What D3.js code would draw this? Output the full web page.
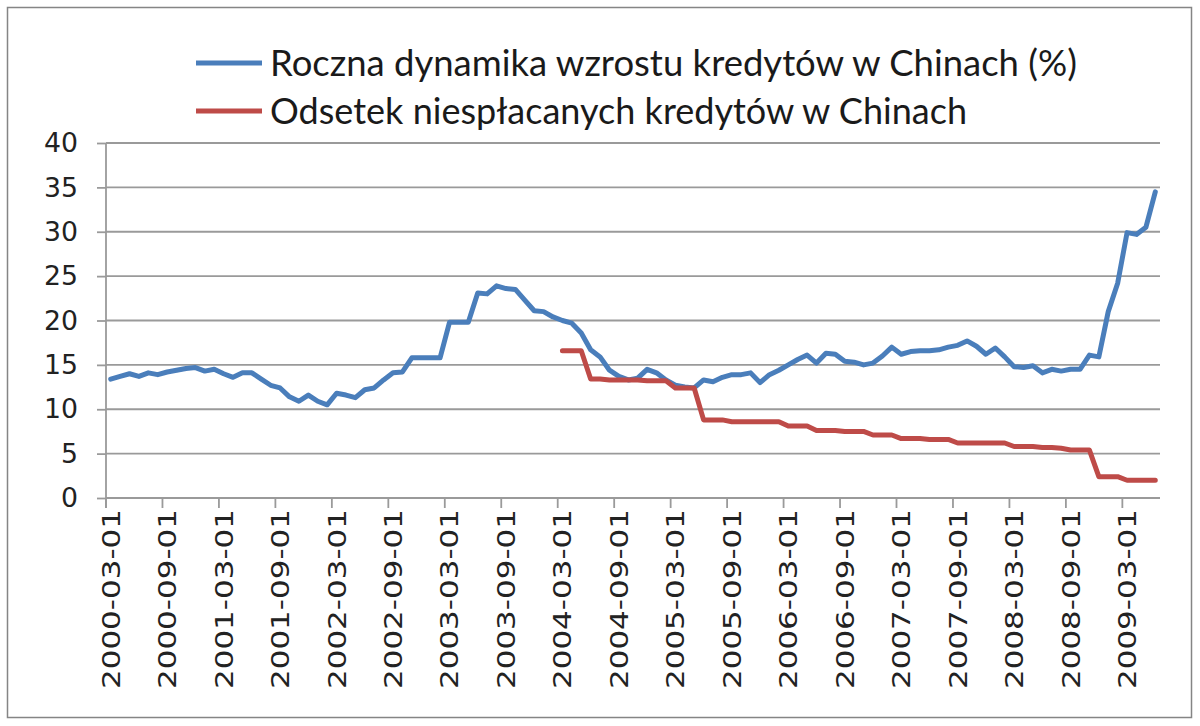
<!DOCTYPE html>
<html><head><meta charset="utf-8">
<script src="https://cdn.jsdelivr.net/npm/d3@7"></script>
<style>
html,body{margin:0;padding:0;background:#fff;}
svg{display:block;}
</style></head>
<body>
<svg id="chart" width="1200" height="726"></svg>
<script>
// ---- DATA ----
const startMonth = "2000-03-01";
const endMonth = "2009-06-01";
const seriesNames = ["Roczna dynamika wzrostu kredytów w Chinach (%)", "Odsetek niespłacanych kredytów w Chinach"];
const yTicks = [0, 5, 10, 15, 20, 25, 30, 35, 40];
const xTickLabels = ["2000-03-01","2000-09-01","2001-03-01","2001-09-01","2002-03-01","2002-09-01","2003-03-01","2003-09-01","2004-03-01","2004-09-01","2005-03-01","2005-09-01","2006-03-01","2006-09-01","2007-03-01","2007-09-01","2008-03-01","2008-09-01","2009-03-01"];
// monthly credit growth, 2000-03 .. 2009-06
const creditGrowth = [
  13.4, 13.7, 14.0, 13.7, 14.1, 13.9, 14.2, 14.4, 14.6, 14.7, 14.3, 14.5,
  14.0, 13.6, 14.1, 14.1, 13.4, 12.7, 12.4, 11.4, 10.9, 11.6, 10.9, 10.5,
  11.8, 11.6, 11.3, 12.2, 12.4, 13.3, 14.1, 14.2, 15.8, 15.8, 15.8, 15.8,
  19.8, 19.8, 19.8, 23.1, 23.0, 23.9, 23.6, 23.5, 22.3, 21.1, 21.0, 20.4,
  20.0, 19.7, 18.6, 16.7, 15.9, 14.4, 13.7, 13.3, 13.5, 14.5, 14.1, 13.3,
  12.7, 12.5, 12.4, 13.3, 13.1, 13.6, 13.9, 13.9, 14.1, 13.0, 13.9, 14.4,
  15.0, 15.6, 16.1, 15.2, 16.3, 16.2, 15.4, 15.3, 15.0, 15.2, 16.0, 17.0,
  16.2, 16.5, 16.6, 16.6, 16.7, 17.0, 17.2, 17.7, 17.1, 16.2, 16.9, 15.9,
  14.8, 14.7, 14.9, 14.1, 14.5, 14.3, 14.5, 14.5, 16.1, 15.9, 21.0, 24.2,
  29.9, 29.7, 30.5, 34.5
];
// monthly non-performing loan ratio, starts 2004-03
const nplStart = "2004-03-01";
const nplRatio = [
  16.6, 16.6, 16.6, 13.4, 13.4, 13.3, 13.3, 13.3, 13.3, 13.2, 13.2, 13.2,
  12.4, 12.4, 12.4, 8.8, 8.8, 8.8, 8.6, 8.6, 8.6, 8.6, 8.6, 8.6,
  8.1, 8.1, 8.1, 7.6, 7.6, 7.6, 7.5, 7.5, 7.5, 7.1, 7.1, 7.1,
  6.7, 6.7, 6.7, 6.6, 6.6, 6.6, 6.2, 6.2, 6.2, 6.2, 6.2, 6.2,
  5.8, 5.8, 5.8, 5.7, 5.7, 5.6, 5.4, 5.4, 5.4, 2.4, 2.4, 2.4,
  2.0, 2.0, 2.0, 2.0
];
const colors = ["#4a7ebb", "#be4b48"];

// ---- CHART ----
const parse = d3.timeParse("%Y-%m-%d");
const fmt = d3.timeFormat("%Y-%m-%d");
const months = d3.timeMonth.range(parse(startMonth), d3.timeMonth.offset(parse(endMonth), 1)).map(fmt);
const nplOffset = months.indexOf(nplStart);

const svg = d3.select("#chart");
const L = 106, R = 1160, T = 143, B = 498;

svg.append("rect").attr("x", 7.5).attr("y", 7.5).attr("width", 1184).attr("height", 710)
  .attr("fill", "#fff").attr("stroke", "#858585").attr("stroke-width", 1.5);

const x = d3.scaleBand().domain(months).range([L, R]).paddingInner(0).paddingOuter(0);
const y = d3.scaleLinear().domain([0, 40]).range([B, T]);

// gridlines
svg.append("g").selectAll("line").data(yTicks).join("line")
  .attr("x1", L).attr("x2", R).attr("y1", d => y(d)).attr("y2", d => y(d))
  .attr("stroke", "#9a9a9a").attr("stroke-width", 1.8);

// y axis
const yAxis = svg.append("g").attr("transform", `translate(${L},0)`)
  .call(d3.axisLeft(y).tickValues(yTicks).tickSize(9).tickPadding(19).tickFormat(d3.format("d")));
yAxis.select(".domain").attr("stroke", "#9a9a9a").attr("stroke-width", 1.8).attr("d", `M0,${T}V${B + 10}`);
yAxis.selectAll(".tick line").attr("stroke", "#9a9a9a").attr("stroke-width", 1.8);
yAxis.selectAll("text").attr("font-family", "DejaVu Sans, sans-serif").attr("font-size", 27)
  .attr("fill", "#222").attr("textLength", 34).attr("lengthAdjust", "spacingAndGlyphs");
yAxis.selectAll("text").filter(d => d < 10).attr("textLength", 17);

// x axis
const tickMonths = months.filter(m => xTickLabels.includes(m));
const xAxis = svg.append("g").attr("transform", `translate(0,${B})`)
  .call(d3.axisBottom(x).tickValues(tickMonths).tickSize(0).tickPadding(0));
xAxis.select(".domain").attr("stroke", "#9a9a9a").attr("stroke-width", 1.8).attr("d", `M${L},0H${R}`);
xAxis.selectAll("text")
  .attr("font-family", "DejaVu Sans, sans-serif").attr("font-size", 25).attr("fill", "#222")
  .attr("transform", "rotate(-90)").attr("text-anchor", "end")
  .attr("x", -11).attr("y", 0).attr("dy", "0.36em")
  .attr("textLength", 180).attr("lengthAdjust", "spacingAndGlyphs");
svg.append("g").selectAll("line").data(tickMonths).join("line")
  .attr("x1", d => x(d)).attr("x2", d => x(d)).attr("y1", B).attr("y2", B + 10)
  .attr("stroke", "#9a9a9a").attr("stroke-width", 1.8);

// lines
const cx = i => x(months[i]) + x.bandwidth() / 2;
const line = d3.line().x(d => cx(d[0])).y(d => y(d[1]));
const s1 = creditGrowth.map((v, i) => [i, v]);
const s2 = nplRatio.map((v, i) => [i + nplOffset, v]);
[s1, s2].forEach((s, k) => {
  svg.append("path").datum(s).attr("d", line).attr("fill", "none")
    .attr("stroke", colors[k]).attr("stroke-width", 5)
    .attr("stroke-linejoin", "round").attr("stroke-linecap", "round");
});

// legend
const legY = [63, 111];
const legLen = [807, 697];
seriesNames.forEach((name, k) => {
  svg.append("line").attr("x1", 196).attr("x2", 262).attr("y1", legY[k]).attr("y2", legY[k])
    .attr("stroke", colors[k]).attr("stroke-width", 5);
  svg.append("text").attr("x", 270).attr("y", legY[k]).attr("dy", "0.35em")
    .attr("font-family", "Lato, sans-serif").attr("font-size", 37).attr("fill", "#1a1a1a")
    .attr("textLength", legLen[k]).attr("lengthAdjust", "spacingAndGlyphs")
    .text(name);
});
</script>
</body></html>
